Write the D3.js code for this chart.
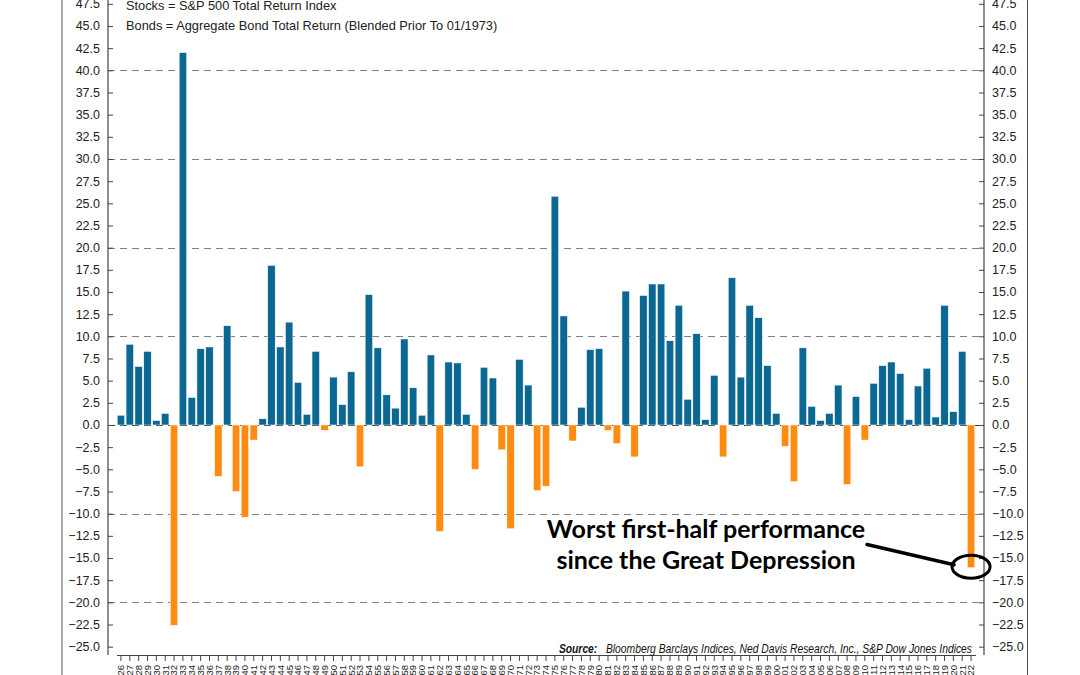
<!DOCTYPE html>
<html>
<head>
<meta charset="utf-8">
<script src="https://cdn.jsdelivr.net/npm/d3@7"></script>
<style>
  html, body { margin: 0; padding: 0; background: #fff; }
  svg { display: block; }
  text { font-family: "Liberation Sans", Arial, Helvetica, sans-serif; }
</style>
</head>
<body>
<svg id="chart" width="1080" height="675"></svg>
<script>
// ---- data ----
const years = d3.range(1926, 2023);
const returns = [
  1.1, 9.1, 6.6, 8.3, 0.5, 1.3, -22.6, 42.0, 3.1, 8.6,       // 1926-1935
  8.8, -5.8, 11.2, -7.5, -10.4, -1.7, 0.7, 18.0, 8.8, 11.6,  // 1936-1945
  4.8, 1.2, 8.3, -0.6, 5.4, 2.3, 6.0, -4.7, 14.7, 8.7,       // 1946-1955
  3.4, 1.9, 9.7, 4.2, 1.1, 7.9, -12.0, 7.1, 7.0, 1.2,        // 1956-1965
  -5.0, 6.5, 5.3, -2.8, -11.7, 7.4, 4.5, -7.4, -6.9, 25.8,   // 1966-1975
  12.3, -1.8, 2.0, 8.5, 8.6, -0.6, -2.1, 15.1, -3.6, 14.6,   // 1976-1985
  15.9, 15.9, 9.5, 13.5, 2.9, 10.3, 0.6, 5.6, -3.6, 16.6,    // 1986-1995
  5.4, 13.5, 12.1, 6.7, 1.3, -2.4, -6.4, 8.7, 2.1, 0.5,      // 1996-2005
  1.3, 4.5, -6.7, 3.2, -1.7, 4.7, 6.7, 7.1, 5.8, 0.6,        // 2006-2015
  4.4, 6.4, 0.9, 13.5, 1.5, 8.3, -16.1                       // 2016-2022
];
const yTicks = d3.range(-25, 47.51, 2.5);
const gridValues = [-20, -10, 0, 10, 20, 30, 40];
const legendLines = [
  "Stocks = S&P 500 Total Return Index",
  "Bonds = Aggregate Bond Total Return (Blended Prior To 01/1973)"
];
const sourceLabel = "Source:";
const sourceText = "Bloomberg Barclays Indices, Ned Davis Research, Inc., S&P Dow Jones Indices";
const annotationLines = ["Worst first-half performance", "since the Great Depression"];

const data = years.map((yr, i) => ({ year: yr, value: returns[i] }));

// ---- layout ----
const svg = d3.select("#chart");
const plotLeft = 108, plotRight = 984, plotBottom = 655;
const blue = "#0a6893", orange = "#ff8b10";

const x = d3.scaleBand()
  .domain(years)
  .range([plotLeft + 8.5, plotRight - 8.5])
  .paddingInner(0.16)
  .paddingOuter(0.08);

const y = d3.scaleLinear()
  .domain([-25.94, 50])
  .range([plotBottom, -18.35]);

// outer frame lines
svg.append("line").attr("x1", 62).attr("x2", 62).attr("y1", 0).attr("y2", 675)
  .attr("stroke", "#555").attr("stroke-width", 1);
svg.append("line").attr("x1", 1027.5).attr("x2", 1027.5).attr("y1", 0).attr("y2", 675)
  .attr("stroke", "#555").attr("stroke-width", 1);

// gridlines
svg.append("g").selectAll("line").data(gridValues).join("line")
  .attr("x1", plotLeft).attr("x2", plotRight)
  .attr("y1", d => Math.round(y(d)) + 0.5).attr("y2", d => Math.round(y(d)) + 0.5)
  .attr("stroke", d => d === 0 ? "#333" : "#808080")
  .attr("stroke-width", 1.2)
  .attr("stroke-dasharray", "7,5");

// bars
svg.append("g").selectAll("rect").data(data).join("rect")
  .attr("x", d => x(d.year))
  .attr("width", x.bandwidth())
  .attr("y", d => y(Math.max(0, d.value)))
  .attr("height", d => Math.abs(y(d.value) - y(0)))
  .attr("fill", d => d.value >= 0 ? blue : orange)
  .attr("stroke", "#ffffff")
  .attr("stroke-width", 0.5);

// axes
const fmt = d3.format(".1f");
const leftAxis = svg.append("g").attr("transform", `translate(${plotLeft},0)`)
  .call(d3.axisLeft(y).tickValues(yTicks).tickFormat(fmt).tickSizeInner(-5).tickSizeOuter(0).tickPadding(8));
const rightAxis = svg.append("g").attr("transform", `translate(${plotRight},0)`)
  .call(d3.axisRight(y).tickValues(yTicks).tickFormat(fmt).tickSizeInner(-5).tickSizeOuter(0).tickPadding(8));
const bottomAxis = svg.append("g").attr("transform", `translate(0,${plotBottom})`)
  .call(d3.axisBottom(x).tickFormat(d => String(d).slice(2)).tickSizeInner(6).tickSizeOuter(0));

[leftAxis, rightAxis].forEach(g => g.select(".domain").attr("d", `M0,0V${plotBottom}`));
[leftAxis, rightAxis, bottomAxis].forEach(g => {
  g.select(".domain").attr("stroke", "#444").attr("stroke-width", 1.2);
  g.selectAll(".tick line").attr("stroke", "#444");
  g.selectAll("text").attr("fill", "#222").style("font-size", "12.5px")
    .style("font-family", '"Liberation Sans", Arial, sans-serif');
});
leftAxis.selectAll("text").attr("x", -8);
rightAxis.selectAll("text").attr("x", 8);
bottomAxis.selectAll("text")
  .style("font-size", "9.5px")
  .attr("transform", "rotate(-90)")
  .attr("text-anchor", "end")
  .attr("x", -10).attr("y", 0).attr("dy", "0.35em");

// legend text
svg.append("g").selectAll("text").data(legendLines).join("text")
  .attr("x", 126).attr("y", (d, i) => 9.5 + i * 20)
  .attr("fill", "#222").style("font-size", "12.8px")
  .text(d => d);

// source (horizontally condensed, like a narrow face)
const srcG = svg.append("g").attr("transform", "translate(972,652.5) scale(0.84,1)");
const src = srcG.append("text").attr("x", 0).attr("y", 0)
  .attr("text-anchor", "end").attr("fill", "#111")
  .style("font-size", "12.3px").style("font-style", "italic");
src.append("tspan").style("font-weight", "bold").text(sourceLabel);
src.append("tspan").text("\u00a0\u00a0 " + sourceText);

// annotation
const ann = svg.append("g");
ann.selectAll("text").data(annotationLines).join("text")
  .attr("x", 706).attr("y", (d, i) => 538 + i * 31)
  .attr("text-anchor", "middle")
  .attr("fill", "#000")
  .style("font-family", "Lato, 'Open Sans', sans-serif")
  .style("font-weight", "bold")
  .style("font-size", "25px")
  .text(d => d);

const last = data[data.length - 1];
const cx = x(last.year) + x.bandwidth() / 2;
const cy = y(last.value);
ann.append("line")
  .attr("x1", 867).attr("y1", 544.5).attr("x2", cx - 17).attr("y2", cy - 3)
  .attr("stroke", "#000").attr("stroke-width", 3.5).attr("stroke-linecap", "round");
ann.append("ellipse")
  .attr("cx", cx).attr("cy", cy - 1).attr("rx", 19).attr("ry", 11.5)
  .attr("fill", "none").attr("stroke", "#000").attr("stroke-width", 3);
</script>
</body>
</html>
